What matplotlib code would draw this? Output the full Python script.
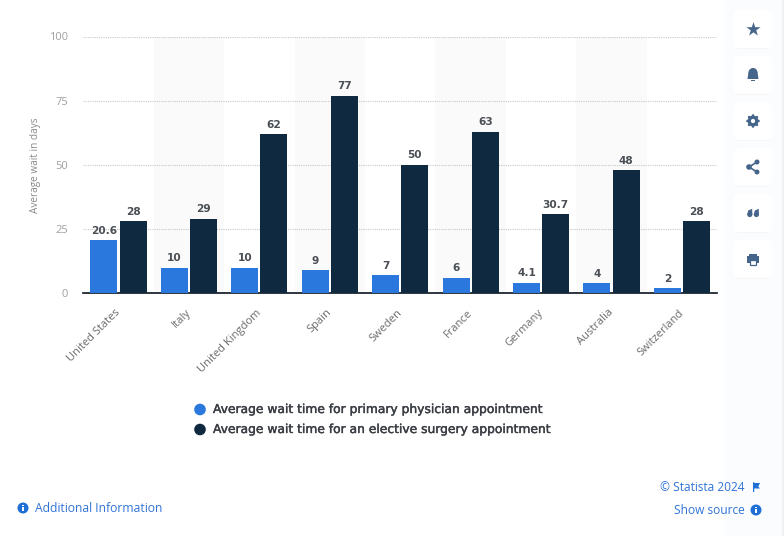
import numpy as np
import matplotlib
matplotlib.use("Agg")
import matplotlib.pyplot as plt
import matplotlib.patheffects as pe
from matplotlib.patches import FancyBboxPatch, Circle, Rectangle, Polygon, Wedge
from matplotlib.transforms import ScaledTranslation

plt.rcParams['font.family'] = ['Open Sans', 'DejaVu Sans']

# Data
paises = ['United States', 'Italy', 'United Kingdom', 'Spain', 'Sweden',
          'France', 'Germany', 'Australia', 'Switzerland']
primary = [20.6, 10, 10, 9, 7, 6, 4.1, 4, 2]
surgery = [28, 29, 62, 77, 50, 63, 30.7, 48, 28]
yticks = [0, 25, 50, 75, 100]
rotulos_primary = ['20.6', '10', '10', '9', '7', '6', '4.1', '4', '2']
rotulos_surgery = ['28', '29', '62', '77', '50', '63', '30.7', '48', '28']
legenda = ['Average wait time for primary physician appointment',
           'Average wait time for an elective surgery appointment']

AZUL = '#2a77dd'
ESCURO = '#0f2a40'
LINK = '#2f74d6'
ICONE = '#46658a'

L, R, T, B = 83.3, 717.2, 36.5, 293.3
W, H = 784, 536

fig = plt.figure(figsize=(W / 100, H / 100), dpi=100)
fig.patch.set_facecolor('white')

# Camada em pixels para botoes, legenda e rodape
px = fig.add_axes([0, 0, 1, 1], zorder=3)
px.set_xlim(0, W)
px.set_ylim(H, 0)
px.axis('off')
px.patch.set_alpha(0)

ax = fig.add_axes([L / W, 1 - B / H, (R - L) / W, (B - T) / H], zorder=2)
x = np.arange(len(paises))
ax.set_xlim(-0.5, len(paises) - 0.5)
ax.set_ylim(0, 100)

# Faixas alternadas
for i in x[1::2]:
    ax.axvspan(i - 0.5, i + 0.5, color='#fafafa', lw=0, zorder=0)

larg = 0.383
desl = 0.207
ax.bar(x - desl, primary, larg, color=AZUL, zorder=3)
ax.bar(x + desl, surgery, larg, color=ESCURO, zorder=3)

for i in x:
    ax.annotate(rotulos_primary[i], (i - desl, primary[i]), xytext=(0, 3.2),
                textcoords='offset points', ha='center', va='bottom',
                fontsize=7.6, fontweight='bold', family='DejaVu Sans', color='#4a4f55', zorder=4)
    ax.annotate(rotulos_surgery[i], (i + desl, surgery[i]), xytext=(0, 3.2),
                textcoords='offset points', ha='center', va='bottom',
                fontsize=7.6, fontweight='bold', family='DejaVu Sans', color='#4a4f55', zorder=4)

ax.set_yticks(yticks)
ax.set_yticklabels([str(v) for v in yticks], fontsize=8, color='#a0a0a0')
ax.grid(axis='y', color='#c8c8c8', lw=0.8, ls=(0, (1, 1)), zorder=1)
ax.set_axisbelow(True)
ax.tick_params(axis='y', length=0, pad=11)
ax.tick_params(axis='x', length=0, pad=10)
ax.set_xticks(x)
ax.set_xticklabels(paises, rotation=45, ha='right', va='top', rotation_mode='anchor',
                   fontsize=8, color='#6b6b6b')
# desloca o rotulo para terminar perto do centro da categoria
desloc = ScaledTranslation(-2.5 / 72, 0, fig.dpi_scale_trans)
for lab in ax.get_xticklabels():
    lab.set_transform(lab.get_transform() + desloc)
for s in ['top', 'right', 'left']:
    ax.spines[s].set_visible(False)
ax.spines['bottom'].set_color('#0b1520')
ax.spines['bottom'].set_linewidth(1.2)
ax.patch.set_alpha(0)

px.text(36, 165, 'Average wait in days', rotation=90, ha='center', va='center',
        fontsize=7.2, color='#8a8a8a')

# Legenda
for yy, cor, txt in zip([409.5, 429.5], [AZUL, ESCURO], legenda):
    px.add_patch(Circle((200, yy), 5.8, color=cor, lw=0))
    px.text(213, yy, txt, ha='left', va='center', fontsize=8.85, family='DejaVu Sans',
            color='#3a3e44', path_effects=[pe.withStroke(linewidth=0.3, foreground='#3a3e44')])

# Rodape
px.text(745, 487.5, '© Statista 2024', ha='right', va='center', fontsize=8.6, color=LINK)
px.text(745, 510.5, 'Show source', ha='right', va='center', fontsize=8.6, color=LINK)
px.text(35, 508.5, 'Additional Information', ha='left', va='center', fontsize=8.7, color=LINK)


def icone_info(cx, cy):
    px.add_patch(Circle((cx, cy), 5.5, color='#1f6fd6', lw=0))
    px.add_patch(Rectangle((cx - 0.8, cy - 1), 1.6, 4, color='white', lw=0))
    px.add_patch(Rectangle((cx - 0.8, cy - 3.4), 1.6, 1.5, color='white', lw=0))


icone_info(23, 508)
icone_info(756, 510)
# bandeira
px.add_patch(Polygon([(753, 482), (753, 492), (754.2, 492), (754.2, 488.5), (760, 488.5),
                      (758.3, 486.5), (760, 483), (755, 483)], color='#1f6fd6', lw=0))

# Botoes laterais
px.add_patch(Rectangle((724, 0), 60, H, color='#fbfcfd', lw=0, zorder=0))
px.add_patch(Rectangle((782.5, 0), 1.5, H, color='#eef0f2', lw=0, zorder=0))
centros = [29, 75, 121, 167, 213, 259]
for cy in centros:
    px.add_patch(FancyBboxPatch((735, cy - 17), 36, 37, boxstyle='round,pad=0,rounding_size=4',
                                fc='#f3f5f8', ec='none', zorder=1))
    px.add_patch(FancyBboxPatch((734, cy - 19), 38, 38, boxstyle='round,pad=0,rounding_size=4',
                                fc='white', ec='none', zorder=2))
cx = 753
px.scatter([cx], [29], marker='*', s=115, color=ICONE, lw=0, zorder=3)
# sino
px.add_patch(Wedge((cx, 72.5), 4.5, 180, 360, color=ICONE, lw=0, zorder=3))
px.add_patch(Polygon([(cx - 4.5, 72), (cx + 4.5, 72), (cx + 5.5, 79), (cx - 5.5, 79)],
                     color=ICONE, lw=0, zorder=3))
px.add_patch(Rectangle((cx - 2, 80.3), 4, 1, color=ICONE, lw=0, zorder=3))
# engrenagem
px.add_patch(Circle((cx, 121), 3.8, fc='white', ec=ICONE, lw=2.4, zorder=3))
for a in np.arange(0, 360, 45):
    px.add_patch(Circle((cx + 5.6 * np.cos(np.radians(a)), 121 + 5.6 * np.sin(np.radians(a))),
                        1.2, color=ICONE, lw=0, zorder=3))
# compartilhar
px.plot([cx + 4, cx - 4, cx + 4], [162, 167, 172], color=ICONE, lw=1.2, zorder=3)
for dx, dy, r in [(4, -5, 2.5), (-4, 0, 2.8), (4, 5, 2.5)]:
    px.add_patch(Circle((cx + dx, 167 + dy), r, color=ICONE, lw=0, zorder=3))
# aspas
for dx in [-3.2, 3.4]:
    px.add_patch(Circle((cx + dx, 214.5), 2.6, color=ICONE, lw=0, zorder=3))
    px.add_patch(Polygon([(cx + dx - 2.6, 214.5), (cx + dx - 1.6, 210.5), (cx + dx + 2.4, 208.8),
                          (cx + dx + 2.4, 211), (cx + dx + 2.6, 214.5)],
                         color=ICONE, lw=0, zorder=3))
# impressora
px.add_patch(Rectangle((cx - 6, 256), 12, 6.5, color=ICONE, lw=0, zorder=3))
px.add_patch(Rectangle((cx - 4, 253.5), 8, 3, color=ICONE, lw=0, zorder=3))
px.add_patch(Rectangle((cx - 3.4, 260), 6.8, 4.6, fc='white', ec=ICONE, lw=0.9, zorder=4))

fig.savefig('out.png', dpi=100)
